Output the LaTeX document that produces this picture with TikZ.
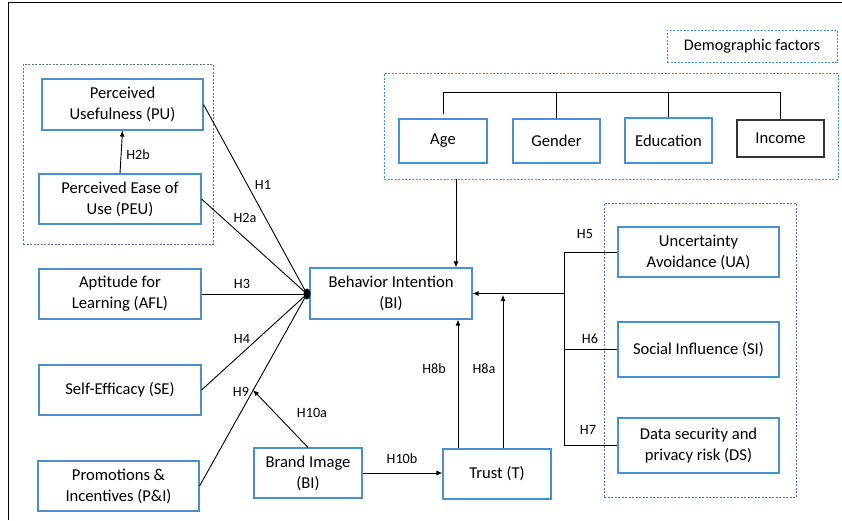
\documentclass[tikz,border=0pt]{standalone}
\usepackage{fontspec}
\setmainfont{Carlito}
\usetikzlibrary{arrows.meta}
\definecolor{boxblue}{RGB}{74,144,208}
\definecolor{dashblue}{RGB}{60,143,219}
\definecolor{dashgray}{RGB}{84,112,170}
\begin{document}
\begin{tikzpicture}[x=1pt,y=-1pt,
  box/.style={draw=boxblue,line width=1.1pt,align=center,inner sep=0pt,font=\fontsize{16.6}{21}\selectfont},
  dbox/.style={draw=#1,line width=0.9pt,dash pattern=on 2pt off 1.5pt,inner sep=0pt},
  lbl/.style={font=\fontsize{14.2}{16}\selectfont,inner sep=0pt},
  arr/.style={line width=0.9pt,-{Latex[length=6pt,width=5pt]}},
  ln/.style={line width=0.9pt}]
\useasboundingbox (0,0) rectangle (842,520);
\draw[line width=1.6pt] (8.5,520) -- (8.5,2.5) -- (842,2.5);
% dashed groups
\node[dbox=dashgray,minimum width=190pt,minimum height=180pt] (gleft) at (118,154) {};
\node[dbox=dashblue,minimum width=454pt,minimum height=106pt] (demo) at (611,126) {};
\node[dbox=dashgray,minimum width=192pt,minimum height=294pt] (gright) at (700,350) {};
\node[dbox=dashblue,minimum width=170pt,minimum height=32pt,font=\fontsize{16.2}{19}\selectfont] (dfac) at (752,46) {Demographic factors};
% left nodes
\node[box,minimum width=161pt,minimum height=51pt] (PU) at (122.5,104.5) {Perceived\\Usefulness (PU)};
\node[box,minimum width=162pt,minimum height=50pt] (PEU) at (120,199) {Perceived Ease of\\Use (PEU)};
\node[box,minimum width=162pt,minimum height=50pt] (AFL) at (120,294) {Aptitude for\\Learning (AFL)};
\node[box,minimum width=162pt,minimum height=50pt] (SE) at (120,390) {Self-Efficacy (SE)};
\node[box,minimum width=161pt,minimum height=50pt] (PI) at (118.5,486) {Promotions \&\\Incentives (P\&I)};
% center
\node[box,minimum width=162pt,minimum height=51pt] (BI) at (391,293.5) {Behavior Intention\\(BI)};
\node[box,minimum width=108pt,minimum height=50pt] (BRI) at (308,473) {Brand Image\\(BI)};
\node[box,minimum width=108pt,minimum height=50pt] (T) at (497,474) {Trust (T)};
% right
\node[box,minimum width=161pt,minimum height=50pt] (UA) at (698.5,252) {Uncertainty\\Avoidance (UA)};
\node[box,minimum width=161pt,minimum height=55pt] (SI) at (698.5,349.5) {Social Influence (SI)};
\node[box,minimum width=161pt,minimum height=55pt] (DS) at (698.5,445.5) {Data security and\\privacy risk (DS)};
% demographics
\node[box,minimum width=88pt,minimum height=44pt] (Age) at (443,141) {Age};
\node[box,minimum width=87pt,minimum height=44pt] (Gen) at (556.5,141) {Gender};
\node[box,minimum width=87pt,minimum height=45pt] (Edu) at (668.5,140.5) {Education};
\node[box,draw=black!80,minimum width=87pt,minimum height=37pt] (Inc) at (780.5,138.5) {Income};
% bracket
\coordinate (brk) at (0,92);
\draw[ln] ([yshift=4pt]Age.north) -- (Age.north |- brk) -- (Inc.north |- brk) -- (Inc.north);
\draw[ln] (Gen.north) -- (Gen.north |- brk);
\draw[ln] (Edu.north) -- (Edu.north |- brk);
% hub
\coordinate (hub) at (307,294);
\draw[ln] (PU.east) -- (hub);
\draw[ln] (PEU.east) -- (hub);
\draw[ln] (AFL.east) -- (hub);
\draw[ln] (SE.east) -- (hub);
\draw[ln] (PI.east) -- (hub);
\fill (hub) ellipse (3.5pt and 5.5pt);
\draw[arr] (PEU.north) -- (PU.south);
% demographics to BI
\coordinate (dx) at (456,0);
\draw[arr] (demo.south -| dx) -- (BI.north -| dx);
% right bus
\coordinate (bus) at (564,0);
\draw[ln] (UA.west) -- (UA.west -| bus) -- (DS.west -| bus) -- (DS.west);
\draw[ln] (SI.west) -- (SI.west -| bus);
\draw[arr] (BI.east -| bus) -- (BI.east);
% trust
\coordinate (h8b) at (458,0);
\coordinate (h8a) at (503,0);
\draw[arr] (T.north -| h8b) -- (BI.south -| h8b);
\draw[arr] (T.north -| h8a) -- (503,295);
% brand image
\coordinate (h9pt) at (253,390);
\draw[arr] (BRI.north) -- (h9pt);
\draw[arr] (BRI.east) -- (T.west |- BRI.east);
% labels
\node[lbl] (lH1) at (263,185) {H1};
\node[lbl] (lH2a) at (245,218) {H2a};
\node[lbl] (lH2b) at (138,155) {H2b};
\node[lbl] (lH3) at (242,284) {H3};
\node[lbl] (lH4) at (242,339) {H4};
\node[lbl] (lH9) at (241,392) {H9};
\node[lbl] (lH10a) at (312,413) {H10a};
\node[lbl] (lH10b) at (402,459) {H10b};
\node[lbl] (lH8b) at (434,369) {H8b};
\node[lbl] (lH8a) at (484,369) {H8a};
\node[lbl] (lH5) at (585,234) {H5};
\node[lbl] (lH6) at (590,339) {H6};
\node[lbl] (lH7) at (588,430) {H7};
\end{tikzpicture}
\end{document}
